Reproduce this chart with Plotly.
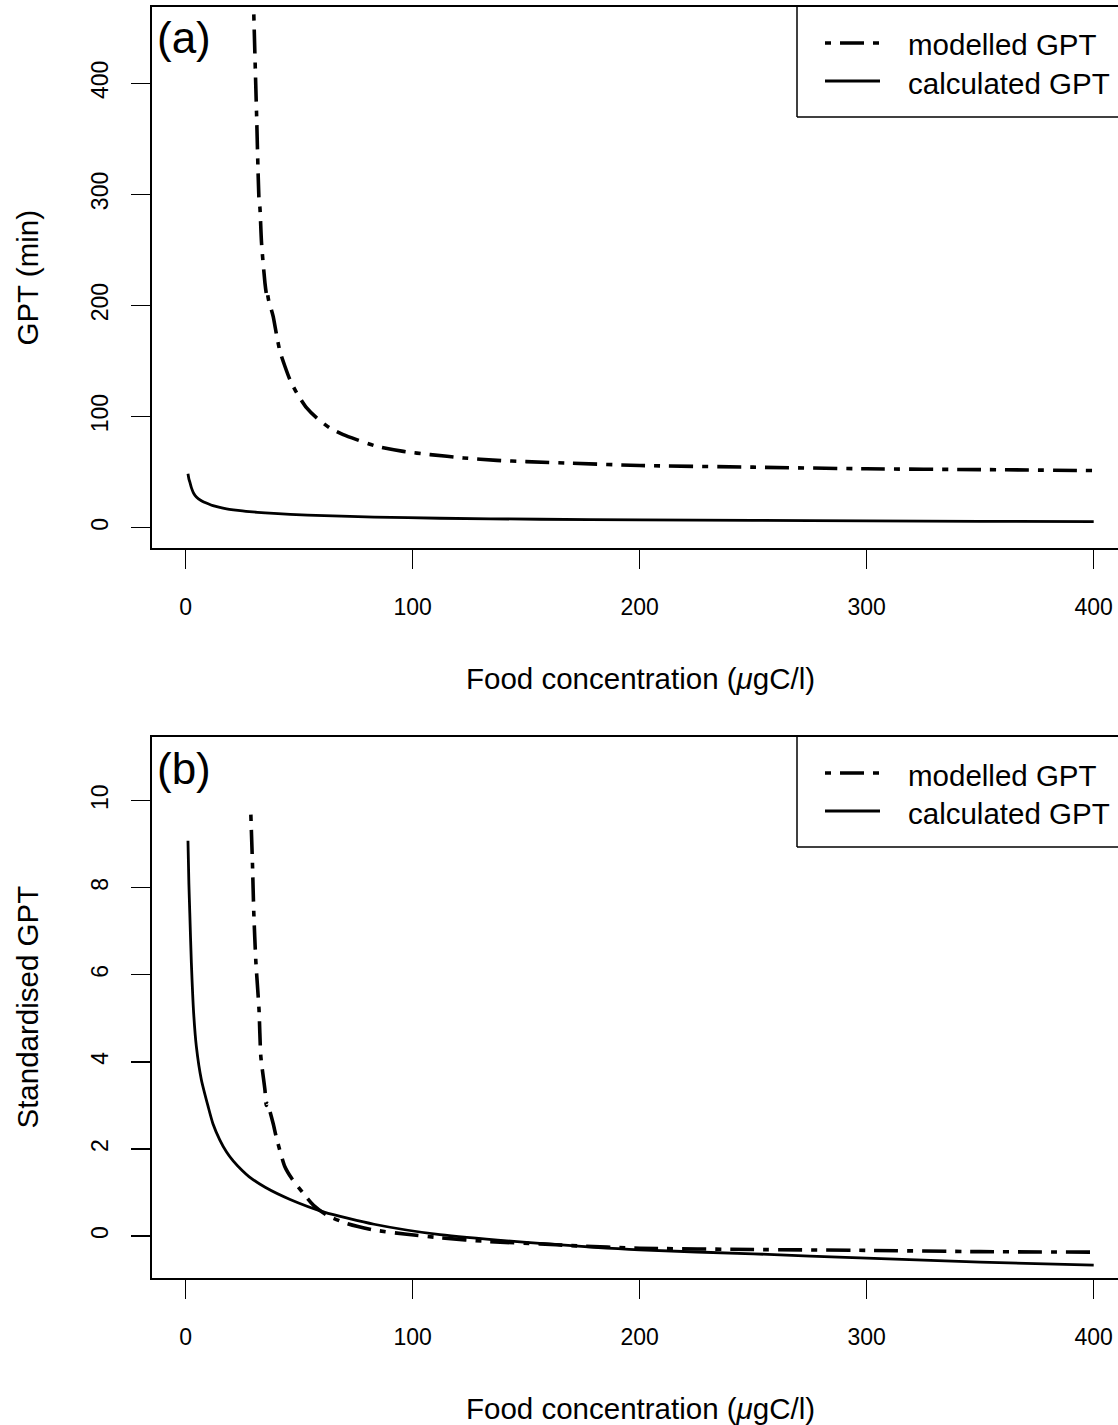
import plotly.graph_objects as go

# ---------------- data ----------------
calc_x = [1, 1.4, 1.8, 2.5, 3.5, 4.7, 6.9, 9.9, 12, 15, 18, 21, 25, 28, 35, 46, 61, 83, 112, 156, 200, 250, 300, 350, 400]
calc_gpt = [48.5, 44.0, 41.2, 36.1, 31.0, 27.6, 24.3, 21.5, 19.8, 18.2, 17.0, 16.1, 15.1, 14.5, 13.3, 12.0, 10.9,
            9.6, 8.5, 7.6, 7.0, 6.6, 6.1, 5.75, 5.4]

mod_x = [30.0, 31.2, 32.3, 32.7, 33.4, 34.9, 35.6, 35.8, 36.5, 38.5, 40.0, 41.5, 43.7, 45.9, 48.9, 53.3, 57.7,
         63.5, 69.4, 75.3, 84.2, 95.9, 107.7, 122.4, 137.1, 150, 170, 200, 250, 300, 350, 400]
mod_gpt = [462, 374, 295, 288, 256.5, 220.5, 210, 213, 205, 190.4, 173.9, 158.8, 145.3, 133.3, 121.4, 107.8, 98.8,
           89.8, 83.8, 79.3, 73.2, 68.7, 65.8, 62.8, 60.6, 59.5, 58, 56, 54.5, 53, 52.3, 51.4]

calc_std_x = [1, 1.4, 1.8, 2.5, 3.5, 4.7, 6.9, 9.9, 12, 15, 18, 21, 25, 28, 35, 46, 61, 83, 112, 156, 200, 250, 300,
              350, 400]
calc_std = [9.08, 8.10, 7.42, 6.27, 5.12, 4.35, 3.59, 2.97, 2.58, 2.21, 1.93, 1.72, 1.50, 1.36, 1.12, 0.84, 0.55,
            0.27, 0.03, -0.17, -0.32, -0.41, -0.51, -0.60, -0.67]

mod_std_x = [28.7, 29.4, 30.0, 30.9, 32.3, 33.1, 34.9, 35.5, 35.9, 38.5, 40.0, 43.7, 46.6, 51.8, 56.2, 62.1, 70.9,
             82.7, 97.4, 112, 134, 156, 170, 200, 250, 300, 350, 400]
mod_std = [9.68, 8.57, 7.42, 6.31, 5.20, 4.12, 3.36, 3.0, 3.05, 2.59, 2.25, 1.59, 1.33, 0.98, 0.71, 0.48, 0.29,
           0.14, 0.04, -0.04, -0.13, -0.18, -0.22, -0.28, -0.31, -0.33, -0.36, -0.37]

x_ticks = [0, 100, 200, 300, 400]
ya_ticks = [0, 100, 200, 300, 400]
yb_ticks = [0, 2, 4, 6, 8, 10]

series_names = ["modelled GPT", "calculated GPT"]
panel_labels = ["(a)", "(b)"]
x_title = "Food concentration (<i>μ</i>gC/l)"
y_titles = ["GPT (min)", "Standardised GPT"]

# ---------------- styling ----------------
W, H = 1118, 1425
FONT = "Liberation Sans, Arial, Helvetica, sans-serif"
DASHDOT = "6px,9px,24px,9px"


def px(x):
    return min(1.0, max(0.0, x / W))


def py(y):
    return min(1.0, max(0.0, 1 - y / H))


fig = go.Figure()

fig.add_trace(go.Scatter(x=mod_x, y=mod_gpt, mode="lines", xaxis="x", yaxis="y",
                         line=dict(color="black", width=3.6, dash=DASHDOT, shape="spline", smoothing=0.6),
                         showlegend=False))
fig.add_trace(go.Scatter(x=calc_x, y=calc_gpt, mode="lines", xaxis="x", yaxis="y",
                         line=dict(color="black", width=2.8, shape="spline", smoothing=0.6),
                         showlegend=False))
fig.add_trace(go.Scatter(x=mod_std_x, y=mod_std, mode="lines", xaxis="x2", yaxis="y2",
                         line=dict(color="black", width=3.6, dash=DASHDOT, shape="spline", smoothing=0.6),
                         showlegend=False))
fig.add_trace(go.Scatter(x=calc_std_x, y=calc_std, mode="lines", xaxis="x2", yaxis="y2",
                         line=dict(color="black", width=2.8, shape="spline", smoothing=0.6),
                         showlegend=False))

left = 151.7
x_range = [(left - 185.7) / 2.27, (W - 185.7) / 2.27]

panels = [
    dict(top=7, bottom=548, zero=527.7, scale=1.111, ticks=ya_ticks),
    dict(top=737, bottom=1278, zero=1236, scale=43.53, ticks=yb_ticks),
]

axis_common = dict(showgrid=False, zeroline=False, showline=True, linecolor="black", linewidth=2,
                   ticks="outside", ticklen=19, tickwidth=1.3, tickcolor="black",
                   tickfont=dict(family=FONT, size=23, color="black"))

for i, p in enumerate(panels):
    sfx = "" if i == 0 else str(i + 1)
    yr = [(p["zero"] - p["bottom"]) / p["scale"], (p["zero"] - p["top"]) / p["scale"]]
    fig.update_layout(**{
        "xaxis" + sfx: dict(domain=[px(left), 1], range=x_range, tickvals=x_ticks, mirror=True,
                            anchor="y" + sfx, ticklabelstandoff=18, **axis_common),
        "yaxis" + sfx: dict(domain=[py(p["bottom"]), py(p["top"])], range=yr, tickvals=p["ticks"],
                            mirror=False, anchor="x" + sfx, tickangle=-90, ticklabelstandoff=14,
                            **axis_common),
    })

    off = 0 if i == 0 else 730
    # x-axis title
    fig.add_annotation(x=px(640), y=py(678 + off), xref="paper", yref="paper",
                       text=x_title, showarrow=False, xanchor="center", yanchor="middle",
                       font=dict(family=FONT, size=29.5, color="black"))
    # y-axis title
    fig.add_annotation(x=px(27), y=py((p["top"] + p["bottom"]) / 2), xref="paper", yref="paper",
                       text=y_titles[i], showarrow=False, textangle=-90, xanchor="center", yanchor="middle",
                       font=dict(family=FONT, size=29.5, color="black"))
    # panel label
    fig.add_annotation(x=px(155), y=py(38 + off), xref="paper", yref="paper",
                       text=panel_labels[i], showarrow=False, xanchor="left", yanchor="middle",
                       font=dict(family=FONT, size=44, color="black"))
    # legend box (left + bottom edges; top edge is the frame, right edge is off-page)
    fig.add_shape(type="line", xref="paper", yref="paper", x0=px(797), x1=px(797),
                  y0=py(p["top"]), y1=py(117 + off), line=dict(color="black", width=1.5))
    fig.add_shape(type="line", xref="paper", yref="paper", x0=px(797), x1=1.02,
                  y0=py(117 + off), y1=py(117 + off), line=dict(color="black", width=1.5))
    # legend samples
    fig.add_shape(type="line", xref="paper", yref="paper", x0=px(825), x1=px(879),
                  y0=py(43 + off), y1=py(43 + off), line=dict(color="black", width=3.6, dash=DASHDOT))
    fig.add_shape(type="line", xref="paper", yref="paper", x0=px(825), x1=px(880),
                  y0=py(81 + off), y1=py(81 + off), line=dict(color="black", width=2.8))
    for k, name in enumerate(series_names):
        fig.add_annotation(x=px(906), y=py((45 if k == 0 else 83) + off), xref="paper", yref="paper",
                           text=name, showarrow=False, xanchor="left", yanchor="middle",
                           font=dict(family=FONT, size=29.5, color="black"))

fig.update_layout(width=W, height=H, margin=dict(l=0, r=0, t=0, b=0), autosize=False,
                  paper_bgcolor="white", plot_bgcolor="white", showlegend=False,
                  font=dict(family=FONT, color="black"))

# remove the page's default body margin so the figure fills the window exactly
fig.write_html("out.html", config={"displayModeBar": False, "staticPlot": True},
               post_script="document.body.style.margin='0px';document.body.style.overflow='hidden';")
